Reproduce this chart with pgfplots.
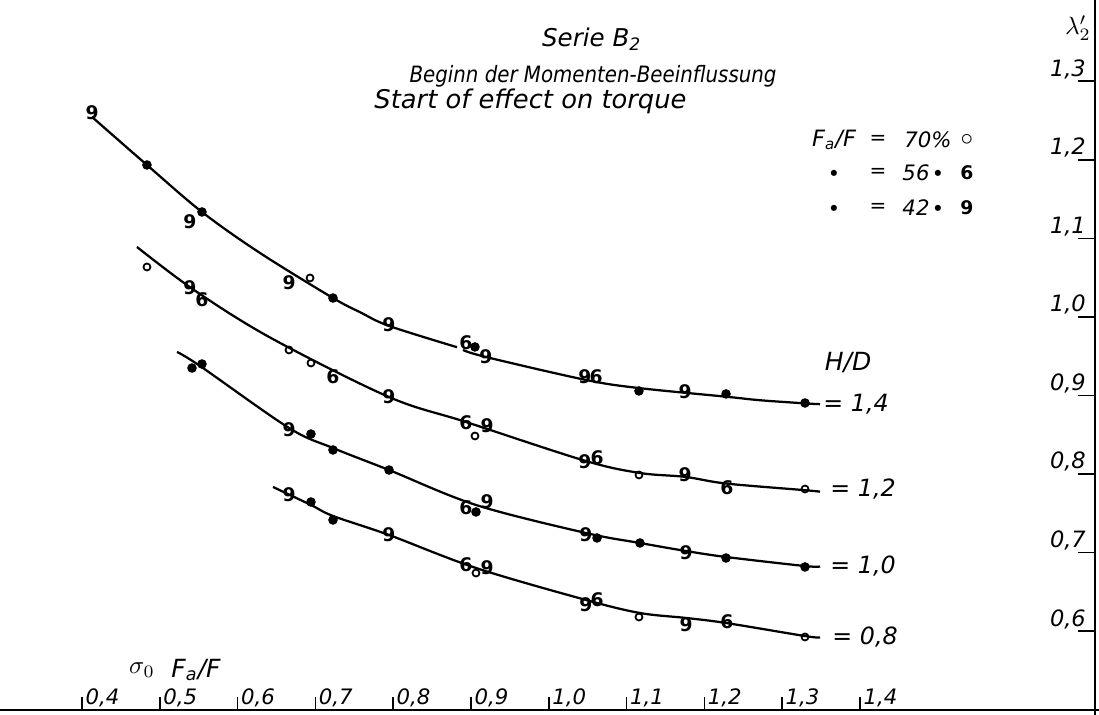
\documentclass[border=0pt]{standalone}
\usepackage{pgfplots}
\pgfplotsset{compat=1.18}
\usepackage{graphicx}
\usepackage{fontspec}
\setmainfont{DejaVu Sans}
\newcommand{\XT}[2]{%
  \draw[line width=0.6pt] (axis cs:#1,0.5) -- (axis cs:#1,0.516);
  \node[anchor=south west, inner sep=0pt, xshift=1.2pt, yshift=1pt,
        font=\itshape\fontsize{8.5}{9}\selectfont] at (axis cs:#1,0.5) {#2};}
\newcommand{\YT}[2]{%
  \draw[line width=0.6pt] (axis cs:1.7021,#1) -- (axis cs:1.6796,#1);
  \node[anchor=south east, inner sep=0pt, xshift=-3.5pt, yshift=0.8pt,
        font=\itshape\fontsize{9}{10}\selectfont] at (axis cs:1.7021,#1) {#2};}
\pgfplotsset{
  crv/.style={no marks, smooth, tension=0.55, line width=0.9pt, black},
  mnine/.style={only marks, mark=text, text mark={9}, text mark as node=true,
     text mark style={font=\bfseries\upshape\fontsize{7.5}{7.5}\selectfont, inner sep=0pt}},
  msix/.style={only marks, mark=text, text mark={6}, text mark as node=true,
     text mark style={font=\bfseries\upshape\fontsize{7.5}{7.5}\selectfont, inner sep=0pt}},
  mo/.style={only marks, mark=o, mark size=1.4pt, mark options={line width=0.7pt, black}},
  mf/.style={only marks, mark=*, mark size=1.7pt, mark options={black, fill=black}},
}
\begin{document}
\begin{tikzpicture}
\begin{axis}[
  name=ax, at={(0,0)}, anchor=south west,
  scale only axis, width=439.6pt, height=286pt,
  xmin=0.2946, xmax=1.7072, ymin=0.4934, ymax=1.4034,
  hide axis, clip=false,
]
% axis lines
\draw[line width=0.6pt] (axis cs:0.2946,0.5) -- (axis cs:1.7072,0.5);
\draw[line width=0.9pt] (axis cs:1.7021,0.4934) -- (axis cs:1.7021,1.4034);
\XT{0.4}{0,4}\XT{0.5}{0,5}\XT{0.6}{0,6}\XT{0.7}{0,7}\XT{0.8}{0,8}\XT{0.9}{0,9}
\XT{1.0}{1,0}\XT{1.1}{1,1}\XT{1.2}{1,2}\XT{1.3}{1,3}\XT{1.4}{1,4}
\YT{0.6}{0,6}\YT{0.7}{0,7}\YT{0.8}{0,8}\YT{0.9}{0,9}
\YT{1.0}{1,0}\YT{1.1}{1,1}\YT{1.2}{1,2}\YT{1.3}{1,3}

% ---- H/D = 1.4 ----
\addplot[crv] coordinates {(0.4129,1.2545) (0.4835,1.1934) (0.5542,1.1336) (0.6288,1.0814)
  (0.7226,1.0241) (0.7573,1.0061) (0.7946,0.9886) (0.8820,0.9615)};
\addplot[crv] coordinates {(0.8897,0.9580) (0.9193,0.9490) (1.0478,0.9198) (1.1159,0.9095)
  (1.2278,0.8985) (1.2715,0.8940) (1.3293,0.8900) (1.3486,0.8890)};
\addplot[mnine] coordinates {(0.4129,1.2596) (0.5388,1.1209) (0.6661,1.0432) (0.7946,0.9898)
  (0.9193,0.9490) (1.0465,0.9236) (1.1751,0.9045)};
\addplot[msix] coordinates {(0.8936,0.9669) (1.0607,0.9236)};
\addplot[mo] coordinates {(0.6931,1.0496)};
\addplot[mf] coordinates {(0.4835,1.1934) (0.5542,1.1336) (0.7226,1.0241) (0.9051,0.9618)
  (1.1159,0.9058) (1.2278,0.9020) (1.3293,0.8905)};

% ---- H/D = 1.2 ----
\addplot[crv] coordinates {(0.4707,1.0890) (0.5440,1.0343) (0.6429,0.9732) (0.7946,0.8981)
  (0.8936,0.8663) (1.0465,0.8170) (1.1172,0.8014) (1.1751,0.7965) (1.2278,0.7880)
  (1.3293,0.7795) (1.3486,0.7776)};
\addplot[mnine] coordinates {(0.5388,1.0369) (0.7946,0.8981) (0.9206,0.8612) (1.0465,0.8154)
  (1.1751,0.7989)};
\addplot[msix] coordinates {(0.5542,1.0216) (0.7226,0.9236) (0.8936,0.8650) (1.0620,0.8205)
  (1.2290,0.7823)};
\addplot[mo] coordinates {(0.4835,1.0636) (0.6661,0.9580) (0.6943,0.9414) (0.9051,0.8485)
  (1.1159,0.7989) (1.3293,0.7810)};

% ---- H/D = 1.0 ----
\addplot[crv] coordinates {(0.5221,0.9554) (0.5517,0.9376) (0.6661,0.8587) (0.7226,0.8332)
  (0.7946,0.8052) (0.9064,0.7607) (1.0478,0.7250) (1.1172,0.7123) (1.1764,0.7021)
  (1.2278,0.6945) (1.3293,0.6830) (1.3486,0.6825)};
\addplot[mnine] coordinates {(0.6661,0.8561) (0.9206,0.7645) (1.0478,0.7225) (1.1764,0.6996)};
\addplot[msix] coordinates {(0.8936,0.7569)};
\addplot[mf] coordinates {(0.5414,0.9350) (0.5542,0.9401) (0.6943,0.8510) (0.7226,0.8307)
  (0.7946,0.8052) (0.9064,0.7518) (1.0620,0.7187) (1.1172,0.7123) (1.2278,0.6932)
  (1.3293,0.6818)};

% ---- H/D = 0.8 ----
\addplot[crv] coordinates {(0.6455,0.7836) (0.6943,0.7607) (0.7226,0.7467) (0.7946,0.7225)
  (0.9064,0.6805) (1.0478,0.6398) (1.1172,0.6232) (1.1764,0.6169) (1.2278,0.6105)
  (1.3293,0.5939) (1.3486,0.5920)};
\addplot[mnine] coordinates {(0.6661,0.7734) (0.7946,0.7225) (0.9206,0.6805) (1.0478,0.6334)
  (1.1764,0.6079)};
\addplot[msix] coordinates {(0.8936,0.6843) (1.0620,0.6398) (1.2290,0.6118)};
\addplot[mo] coordinates {(0.9064,0.6741) (1.1159,0.6181) (1.3293,0.5927)};
\addplot[mf] coordinates {(0.6943,0.7645) (0.7226,0.7416)};

% ---- texts ----
\node[anchor=east, inner sep=0pt, font=\itshape\fontsize{9.8}{12}\selectfont] at (axis cs:1.1198,1.3538) {Serie B\textsubscript{2}};
\node[anchor=east, inner sep=0pt, font=\itshape\fontsize{9}{11}\selectfont] at (axis cs:1.2933,1.3067) {\scalebox{0.88}[1]{Beginn der Momenten-Beeinflussung}};
\node[anchor=east, inner sep=0pt, font=\itshape\fontsize{10.3}{12}\selectfont] at (axis cs:1.1776,1.2749) {Start of effect on torque};
\node[font=\itshape\fontsize{9}{10}\selectfont] at (axis cs:1.3666,1.2252) {F\textsubscript{a}/F};
\node[font=\fontsize{8}{9}\selectfont] at (axis cs:1.4231,1.2252) {=};
\node[font=\itshape\fontsize{8.5}{9}\selectfont] at (axis cs:1.4874,1.2252) {70\%};
\node at (axis cs:1.5375,1.2252) {$\circ$};
\node at (axis cs:1.3666,1.1832) {\tiny$\bullet$};
\node[font=\fontsize{8}{9}\selectfont] at (axis cs:1.4231,1.1832) {=};
\node[font=\itshape\fontsize{8.5}{9}\selectfont] at (axis cs:1.4720,1.1832) {56};
\node at (axis cs:1.5003,1.1832) {\tiny$\bullet$};
\node[font=\bfseries\fontsize{7.5}{8}\selectfont] at (axis cs:1.5375,1.1832) {6};
\node at (axis cs:1.3666,1.1387) {\tiny$\bullet$};
\node[font=\fontsize{8}{9}\selectfont] at (axis cs:1.4231,1.1387) {=};
\node[font=\itshape\fontsize{8.5}{9}\selectfont] at (axis cs:1.4720,1.1387) {42};
\node at (axis cs:1.5003,1.1387) {\tiny$\bullet$};
\node[font=\bfseries\fontsize{7.5}{8}\selectfont] at (axis cs:1.5375,1.1387) {9};
\node[font=\itshape\fontsize{10}{11}\selectfont] at (axis cs:1.3846,0.9414) {H/D};
\node[anchor=west, inner sep=0pt, font=\itshape\fontsize{9.5}{11}\selectfont] at (axis cs:1.3524,0.8893) {= 1,4};
\node[anchor=west, inner sep=0pt, font=\itshape\fontsize{9.5}{11}\selectfont] at (axis cs:1.3614,0.7810) {= 1,2};
\node[anchor=west, inner sep=0pt, font=\itshape\fontsize{9.5}{11}\selectfont] at (axis cs:1.3614,0.6830) {= 1,0};
\node[anchor=west, inner sep=0pt, font=\itshape\fontsize{9.5}{11}\selectfont] at (axis cs:1.3640,0.5927) {= 0,8};
\node[font=\fontsize{10}{11}\selectfont] at (axis cs:0.4771,0.5507) {$\sigma_0$};
\node[font=\itshape\fontsize{10}{11}\selectfont] at (axis cs:0.5465,0.5507) {F\textsubscript{a}/F};
\node[font=\fontsize{10}{11}\selectfont] at (axis cs:1.6802,1.3678) {$\lambda'_2$};
\end{axis}
\pgfresetboundingbox
\path (ax.south west) rectangle (ax.north east);
\end{tikzpicture}
\end{document}
